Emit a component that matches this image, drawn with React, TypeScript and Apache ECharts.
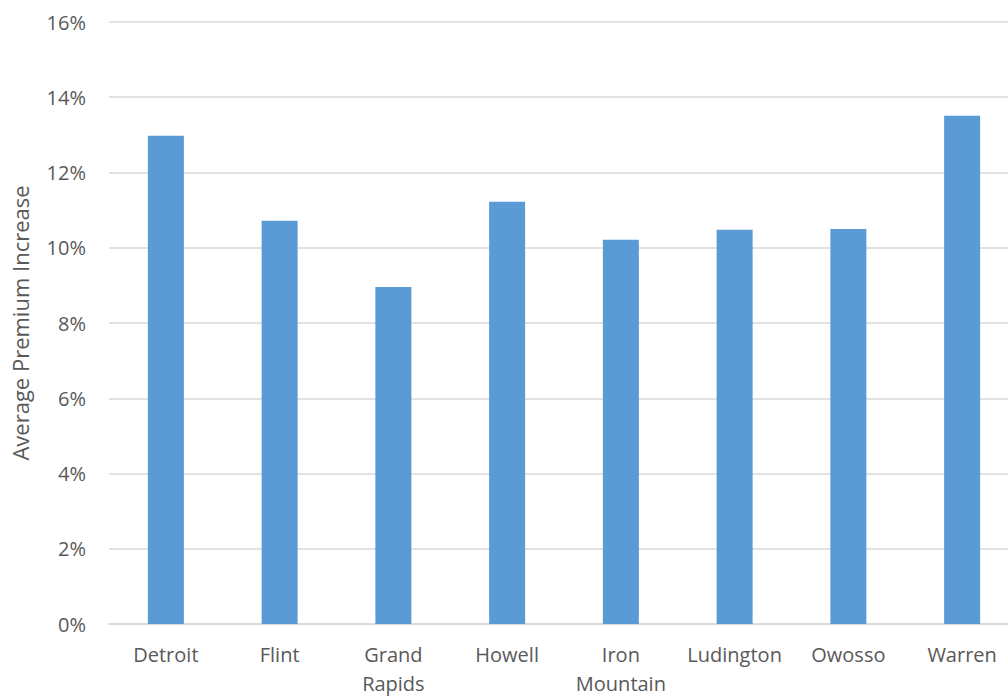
import React, { useEffect, useRef } from "react";
import * as echarts from "echarts";

const categories = ["Detroit", "Flint", "Grand\nRapids", "Howell", "Iron\nMountain", "Ludington", "Owosso", "Warren"];
const values = [0.1298, 0.1072, 0.0896, 0.1122, 0.1021, 0.1048, 0.105, 0.1351];
const yTicks = { min: 0, max: 0.16, interval: 0.02 };

export default function App() {
  const ref = useRef<HTMLDivElement>(null);
  useEffect(() => {
    const chart = echarts.init(ref.current!, null, { renderer: "svg" });
    chart.setOption({
      animation: false,
      backgroundColor: "#ffffff",
      textStyle: { fontFamily: "Open Sans, Noto Sans, sans-serif" },
      grid: { left: 109, width: 910, top: 22, height: 602, containLabel: false, outerBoundsMode: "none" },
      xAxis: {
        type: "category",
        data: categories,
        axisTick: { show: false },
        axisLine: { lineStyle: { color: "#d9d9d9", width: 1.5 } },
        axisLabel: { interval: 0, color: "#595959", fontSize: 20, margin: 16, lineHeight: 29, fontFamily: "Open Sans, Noto Sans, sans-serif" },
      },
      yAxis: {
        type: "value",
        min: yTicks.min,
        max: yTicks.max,
        interval: yTicks.interval,
        name: "Average Premium Increase",
        nameLocation: "middle",
        nameGap: 78,
        nameTextStyle: { color: "#595959", fontSize: 22, fontFamily: "Open Sans, Noto Sans, sans-serif" },
        axisLine: { show: false },
        axisTick: { show: false },
        splitLine: { lineStyle: { color: "#d9d9d9", width: 1.5 } },
        axisLabel: {
          color: "#595959",
          fontSize: 20,
          margin: 23,
          formatter: (v: number) => Math.round(v * 100) + "%",
        },
      },
      series: [
        {
          type: "bar",
          data: values,
          barWidth: 36,
          itemStyle: { color: "#5B9BD5" },
        },
      ],
    });
    return () => chart.dispose();
  }, []);
  return <div ref={ref} style={{ position: "fixed", left: 0, top: 0, width: 1008, height: 696 }} />;
}
